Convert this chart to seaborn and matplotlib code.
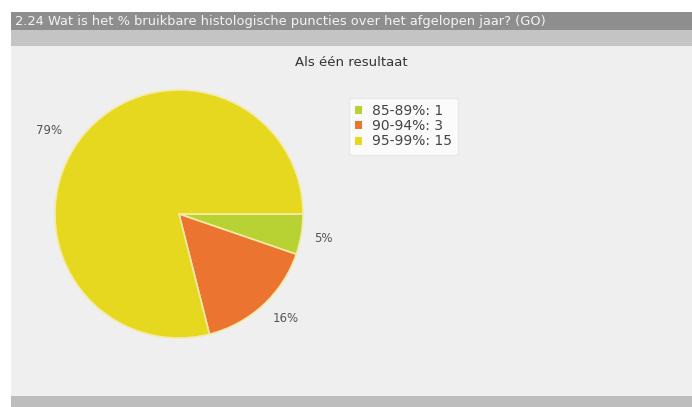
import matplotlib
matplotlib.use("Agg")
import matplotlib.pyplot as plt
from matplotlib.patches import Rectangle, Patch
import seaborn as sns

categories = ["85-89%", "90-94%", "95-99%"]
counts = [1, 3, 15]
pct_labels = ["5%", "16%", "79%"]
colors = ["#b9d233", "#ea7430", "#e6d81f"]

sns.set_theme(style="white")
plt.rcParams['font.family'] = ['DejaVu Sans']

W, H = 692, 407
fig = plt.figure(figsize=(W / 100, H / 100), dpi=100)
fig.patch.set_facecolor("white")

bg = fig.add_axes([0, 0, 1, 1])
bg.set_xlim(0, W)
bg.set_ylim(H, 0)
bg.axis("off")
bg.set_zorder(0)

def rect(x0, y0, x1, y1, color):
    bg.add_patch(Rectangle((x0, y0), x1 - x0, y1 - y0, facecolor=color,
                           edgecolor="none"))

rect(11, 12, W, 30, "#8e8e8e")
rect(11, 30, W, 46, "#c4c4c4")
rect(11, 46, W, 396, "#efefef")
rect(11, 396, W, H, "#bdbdbd")

bg.text(15, 21,
        "2.24 Wat is het % bruikbare histologische puncties over het afgelopen jaar? (GO)",
        color="#f4f4f4", fontsize=9.4, va="center", ha="left")
bg.text(351, 62, "Als één resultaat", color="#333333",
        fontsize=9.5, va="center", ha="center")

label_pos = [(323, 238), (286, 318), (49, 130)]
for (px, py), lab in zip(label_pos, pct_labels):
    bg.text(px, py, lab, color="#555555", fontsize=8.5,
            ha="center", va="center")

cx, cy, r = 179, 214, 124
ax = fig.add_axes([(cx - r) / W, 1 - (cy + r) / H, 2 * r / W, 2 * r / H])
ax.set_zorder(2)
ax.pie(counts, colors=colors, startangle=0, counterclock=False,
       radius=1.0, wedgeprops=dict(edgecolor="#f6eaa8", linewidth=1.2))
ax.set_xlim(-1, 1)
ax.set_ylim(-1, 1)
ax.set_aspect("auto")
ax.axis("off")

handles = [Patch(facecolor=c, edgecolor="none") for c in colors]
labels = [f"{c}: {n}" for c, n in zip(categories, counts)]
leg = bg.legend(handles, labels, loc="upper left",
                bbox_to_anchor=(349 / W, 1 - 98 / H),
                bbox_transform=fig.transFigure, fontsize=10,
                frameon=True, fancybox=True, handlelength=0.5,
                handleheight=0.5, handletextpad=0.7, labelspacing=0.08,
                borderpad=0.45, borderaxespad=0)
leg.get_frame().set_facecolor("white")
leg.get_frame().set_edgecolor("#e6e6e6")
leg.set_zorder(5)
for t in leg.get_texts():
    t.set_color("#444444")

fig.savefig("out.png", dpi=100, facecolor=fig.get_facecolor())
